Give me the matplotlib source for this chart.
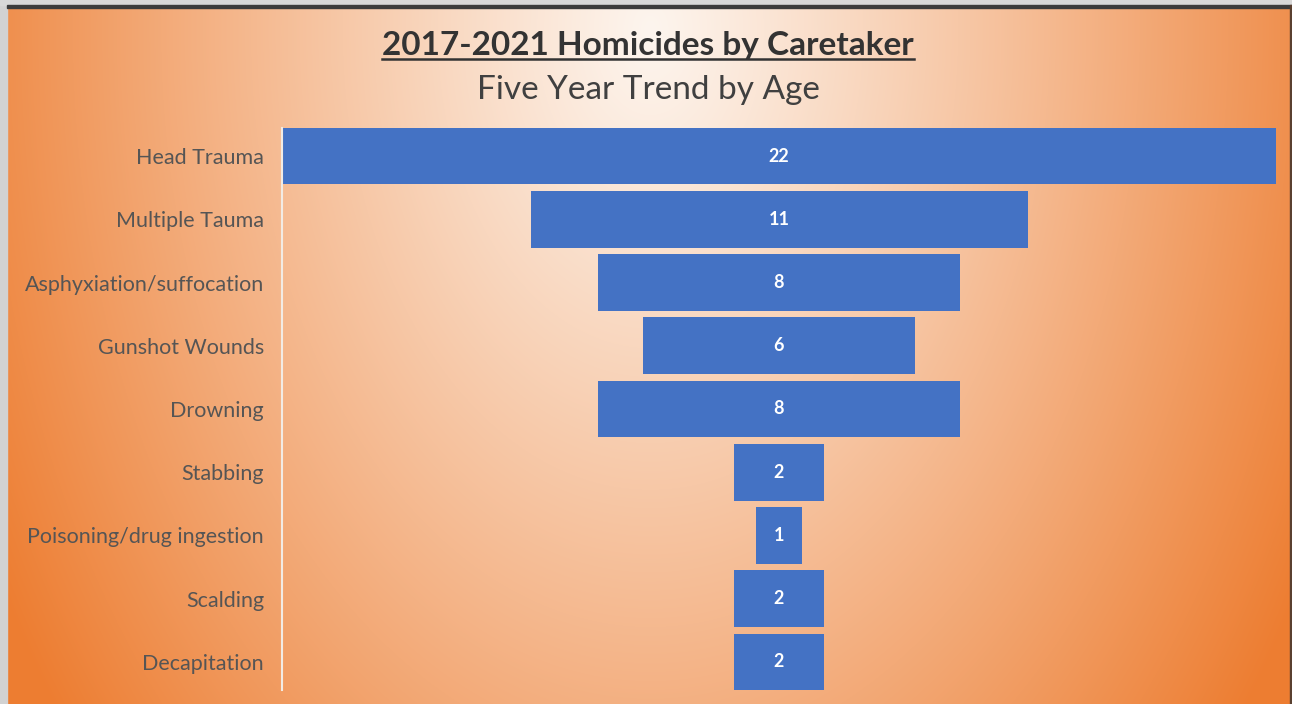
import numpy as np
import matplotlib.pyplot as plt
from matplotlib.patches import Rectangle
from matplotlib.lines import Line2D

plt.rcParams['font.family'] = ['Lato', 'DejaVu Sans']

causes = ['Head Trauma', 'Multiple Tauma', 'Asphyxiation/suffocation',
          'Gunshot Wounds', 'Drowning', 'Stabbing',
          'Poisoning/drug ingestion', 'Scalding', 'Decapitation']
counts = [22, 11, 8, 6, 8, 2, 1, 2, 2]

W, H = 1292, 704
fig = plt.figure(figsize=(W / 100, H / 100), dpi=100)

# radial orange background, light near the title
bg = fig.add_axes([0, 0, 1, 1], zorder=0)
yy, xx = np.mgrid[0:H, 0:W]
t = np.sqrt(((xx - 650) / 750.0) ** 2 + ((yy - 30) / 1120.0) ** 2)
t = np.clip(t, 0, 1) ** 1.1
light = np.array([253, 245, 238]) / 255
orange = np.array([237, 125, 49]) / 255
img = light[None, None, :] * (1 - t[..., None]) + orange[None, None, :] * t[..., None]
bg.imshow(img, extent=[0, W, H, 0], aspect='auto')
bg.set_xlim(0, W)
bg.set_ylim(H, 0)
bg.axis('off')

# frame edges
def px_rect(x0, y0, w, h, c):
    fig.patches.append(Rectangle((x0 / W, 1 - (y0 + h) / H), w / W, h / H,
                                 transform=fig.transFigure, color=c, zorder=5))

px_rect(0, 0, 7, H, '#d2d2d2')
px_rect(0, 0, W, 5, '#d8d8d8')
px_rect(7, 5, W, 2.5, '#3c3c3c')
px_rect(1289.5, 5, 2.5, H, '#5a4030')

ax = fig.add_axes([282 / W, 10.4 / H, 994 / W, 569.2 / H], zorder=2)
ax.set_facecolor('none')
y = np.arange(len(causes))
vals = np.array(counts, dtype=float)
ax.barh(y, vals, left=-vals / 2, height=0.9, color='#4472c4')
for yi, v in zip(y, counts):
    ax.text(0, yi, str(v), ha='center', va='center', color='white',
            fontsize=13, fontweight='bold')

ax.set_xlim(-11, 11)
ax.set_ylim(len(causes) - 0.5, -0.5)
ax.set_yticks(y)
ax.set_yticklabels(causes, fontsize=15.5, color='#555555')
ax.set_xticks([])
ax.tick_params(axis='y', length=0, pad=13)
for s in ['top', 'right', 'bottom']:
    ax.spines[s].set_visible(False)
ax.spines['left'].set_color('#f2ebe4')
ax.spines['left'].set_linewidth(1.5)
ax.spines['left'].set_bounds(-0.45, 8.45)

title = fig.text(648 / W, 1 - 45 / H, '2017-2021 Homicides by Caretaker',
                 ha='center', va='center', fontsize=24, fontweight='bold',
                 color='#333333', zorder=6)
fig.text(648 / W, 1 - 90 / H, 'Five Year Trend by Age', ha='center',
         va='center', fontsize=24, color='#404040', zorder=6)

# underline the title
fig.canvas.draw()
bb = title.get_window_extent().transformed(fig.transFigure.inverted())
fig.add_artist(Line2D([bb.x0, bb.x1], [bb.y0 + 0.001, bb.y0 + 0.001],
                      transform=fig.transFigure, color='#333333', lw=1.8,
                      zorder=6))

fig.savefig('out.png', dpi=100)
